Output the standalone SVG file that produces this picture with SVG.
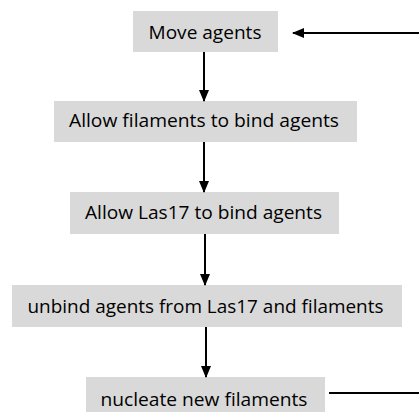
<svg xmlns="http://www.w3.org/2000/svg" width="419" height="412" viewBox="0 0 419 412">
<style>
.box{fill:#d9d9d9}
.lbl{font-family:"Open Sans","Liberation Sans",sans-serif;font-size:18.5px;fill:#000;text-anchor:middle}
.c{stroke:#000;stroke-width:2;fill:none}
</style>
<defs>
<marker id="ah" markerWidth="12" markerHeight="10" refX="11" refY="5" orient="auto" markerUnits="userSpaceOnUse">
<path d="M0,0 L12,5 L0,10 Z" fill="#000"/>
</marker>
</defs>
<rect width="419" height="412" fill="#fff"/>
<g id="n1"><rect class="box" x="133" y="11" width="145" height="41"/><text class="lbl" x="205" y="39" textLength="113" lengthAdjust="spacingAndGlyphs">Move agents</text></g>
<g id="n2"><rect class="box" x="54" y="101" width="303" height="41"/><text class="lbl" x="204" y="127" textLength="270" lengthAdjust="spacingAndGlyphs">Allow filaments to bind agents</text></g>
<g id="n3"><rect class="box" x="70" y="192" width="269" height="42"/><text class="lbl" x="203.5" y="219" textLength="237" lengthAdjust="spacingAndGlyphs">Allow Las17 to bind agents</text></g>
<g id="n4"><rect class="box" x="12" y="285" width="390" height="42"/><text class="lbl" x="205.5" y="313" textLength="356" lengthAdjust="spacingAndGlyphs">unbind agents from Las17 and filaments</text></g>
<g id="n5"><rect class="box" x="86" y="377" width="239" height="40"/><text class="lbl" x="204" y="406" textLength="207" lengthAdjust="spacingAndGlyphs">nucleate new filaments</text></g>
<g id="connectors">
<line class="c" x1="204" y1="52" x2="204" y2="101" marker-end="url(#ah)"/>
<line class="c" x1="204" y1="142" x2="204" y2="192" marker-end="url(#ah)"/>
<line class="c" x1="205" y1="234" x2="205" y2="285" marker-end="url(#ah)"/>
<line class="c" x1="206" y1="327" x2="206" y2="377" marker-end="url(#ah)"/>
<polyline class="c" points="329,393 419,393"/>
<line class="c" x1="419" y1="33" x2="293" y2="33" marker-end="url(#ah)"/>
</g>
</svg>
